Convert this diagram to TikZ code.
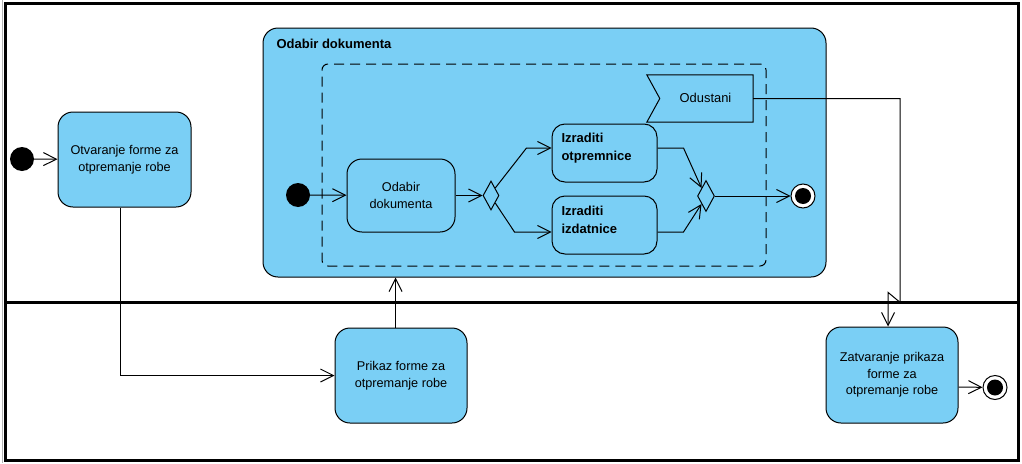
\documentclass[tikz,border=0pt]{standalone}
\usepackage{fontspec}
\setmainfont{Liberation Sans}
\usetikzlibrary{arrows.meta,shapes.geometric}
\definecolor{actblue}{HTML}{7ACFF5}
\tikzset{
  every picture/.style={x=1pt,y=-1pt},
  lw/.style={line width=1pt},
  arr/.style={lw,-{Straight Barb[length=13pt,width=13pt,line width=1pt]}},
  frameline/.style={line width=3pt},
  act/.style={draw,lw,fill=actblue,rounded corners=15pt,inner sep=0pt,align=center,
    font=\fontsize{12.7}{16.5}\selectfont},
  actsm/.style={act,rounded corners=13pt},
  initnode/.style={circle,fill=black,minimum size=24pt,inner sep=0pt},
  finalnode/.style={circle,draw,lw,fill=white,minimum size=24pt,inner sep=0pt,
    path picture={\fill[black] (path picture bounding box.center) circle (8pt);}},
  gate/.style={diamond,draw,lw,fill=actblue,inner sep=0pt},
  lbl/.style={font=\fontsize{12.9}{16.5}\selectfont},
  blbl/.style={font=\fontsize{13}{17.5}\selectfont\bfseries,align=left},
}
\begin{document}
\begin{tikzpicture}
\useasboundingbox (0,0) rectangle (1022,463);
% frame
\draw[gray!60,line width=1.5pt] (2.5,0) -- (2.5,463);
\draw[frameline] (5.5,3) -- (1018,3) -- (1018,460) -- (5.5,460) -- cycle;
\draw[frameline] (5.5,302.5) -- (1018,302.5);

% top lane
\node[initnode] (i1) at (22,159) {};
\node[act,minimum width=133pt,minimum height=95pt] (otv) at (124.5,159.5) {Otvaranje forme za\\otpremanje robe};

% structured activity
\node[act,minimum width=563pt,minimum height=249pt] (sa) at (544.5,152.5) {};
\node[font=\fontsize{13}{14}\selectfont\bfseries,anchor=west] (sat) at (273,43.5) {Odabir dokumenta};
\node[draw,lw,dash pattern=on 10pt off 6pt,rounded corners=6pt,minimum width=444pt,minimum height=202pt,inner sep=0pt] (dsh) at (544,165) {};

\node[initnode] (i2) at (298,195) {};
\node[act,minimum width=108pt,minimum height=73pt] (oda) at (401,195.5) {Odabir\\dokumenta};
\node[gate,minimum width=16pt,minimum height=29pt] (dec) at (491,195.5) {};
\node[actsm,minimum width=105pt,minimum height=58pt] (otp) at (604.5,153) {};
\node[blbl,anchor=west] (otpt) at (558,148) {Izraditi\\otpremnice};
\node[actsm,minimum width=105pt,minimum height=58pt] (izd) at (604.5,225) {};
\node[blbl,anchor=west] (izdt) at (558,220) {Izraditi\\izdatnice};
\node[gate,minimum width=17pt,minimum height=31pt] (mrg) at (706,196) {};
\node[finalnode] (f1) at (803,196) {};

% Odustani accept event
\node[minimum width=106pt,minimum height=47pt,inner sep=0pt] (odu) at (700,98.5) {};
\draw[lw,fill=actblue] (odu.north west) -- (odu.north east) -- (odu.south east) -- (odu.south west) -- ([xshift=13pt]odu.west) -- cycle;
\node[lbl] (odut) at (705.5,98) {Odustani};

% bottom lane
\node[act,minimum width=132pt,minimum height=95pt] (prk) at (401,375.5) {Prikaz forme za\\otpremanje robe};
\node[act,minimum width=132pt,minimum height=96pt] (zat) at (892,375) {Zatvaranje prikaza\\forme za\\otpremanje robe};
\node[finalnode] (f2) at (995,387.5) {};

% flows
\draw[arr] (i1) -- (otv);
\draw[arr] ([xshift=-4.5pt]otv.south) |- (prk.west);
\draw[arr] ([xshift=-5.5pt]prk.north) -- ([xshift=-5.5pt]prk.north |- sa.south);
\draw[arr] (i2) -- (oda);
\draw[arr] (oda) -- (dec);
\draw[arr] (dec.north east) -- ([xshift=-25pt,yshift=5pt]otp.west) -- ([yshift=5pt]otp.west);
\draw[arr] (dec.south east) -- ([xshift=-37pt,yshift=-7pt]izd.west) -- ([yshift=-7pt]izd.west);
\draw[arr] ([yshift=5pt]otp.east) -- ++(26,0) -- (mrg.north west);
\draw[arr] ([yshift=-7pt]izd.east) -- ++(26,0) -- (mrg.south west);
\draw[arr] (mrg) -- (f1);
\draw[arr] (odu.east) -- ++(147,0) -- ++(0,204) -- ++(-12,-10) -- ([xshift=-4pt]zat.north);
\draw[arr] ([yshift=-12pt]zat.east) -- (f2);
\end{tikzpicture}
\end{document}
